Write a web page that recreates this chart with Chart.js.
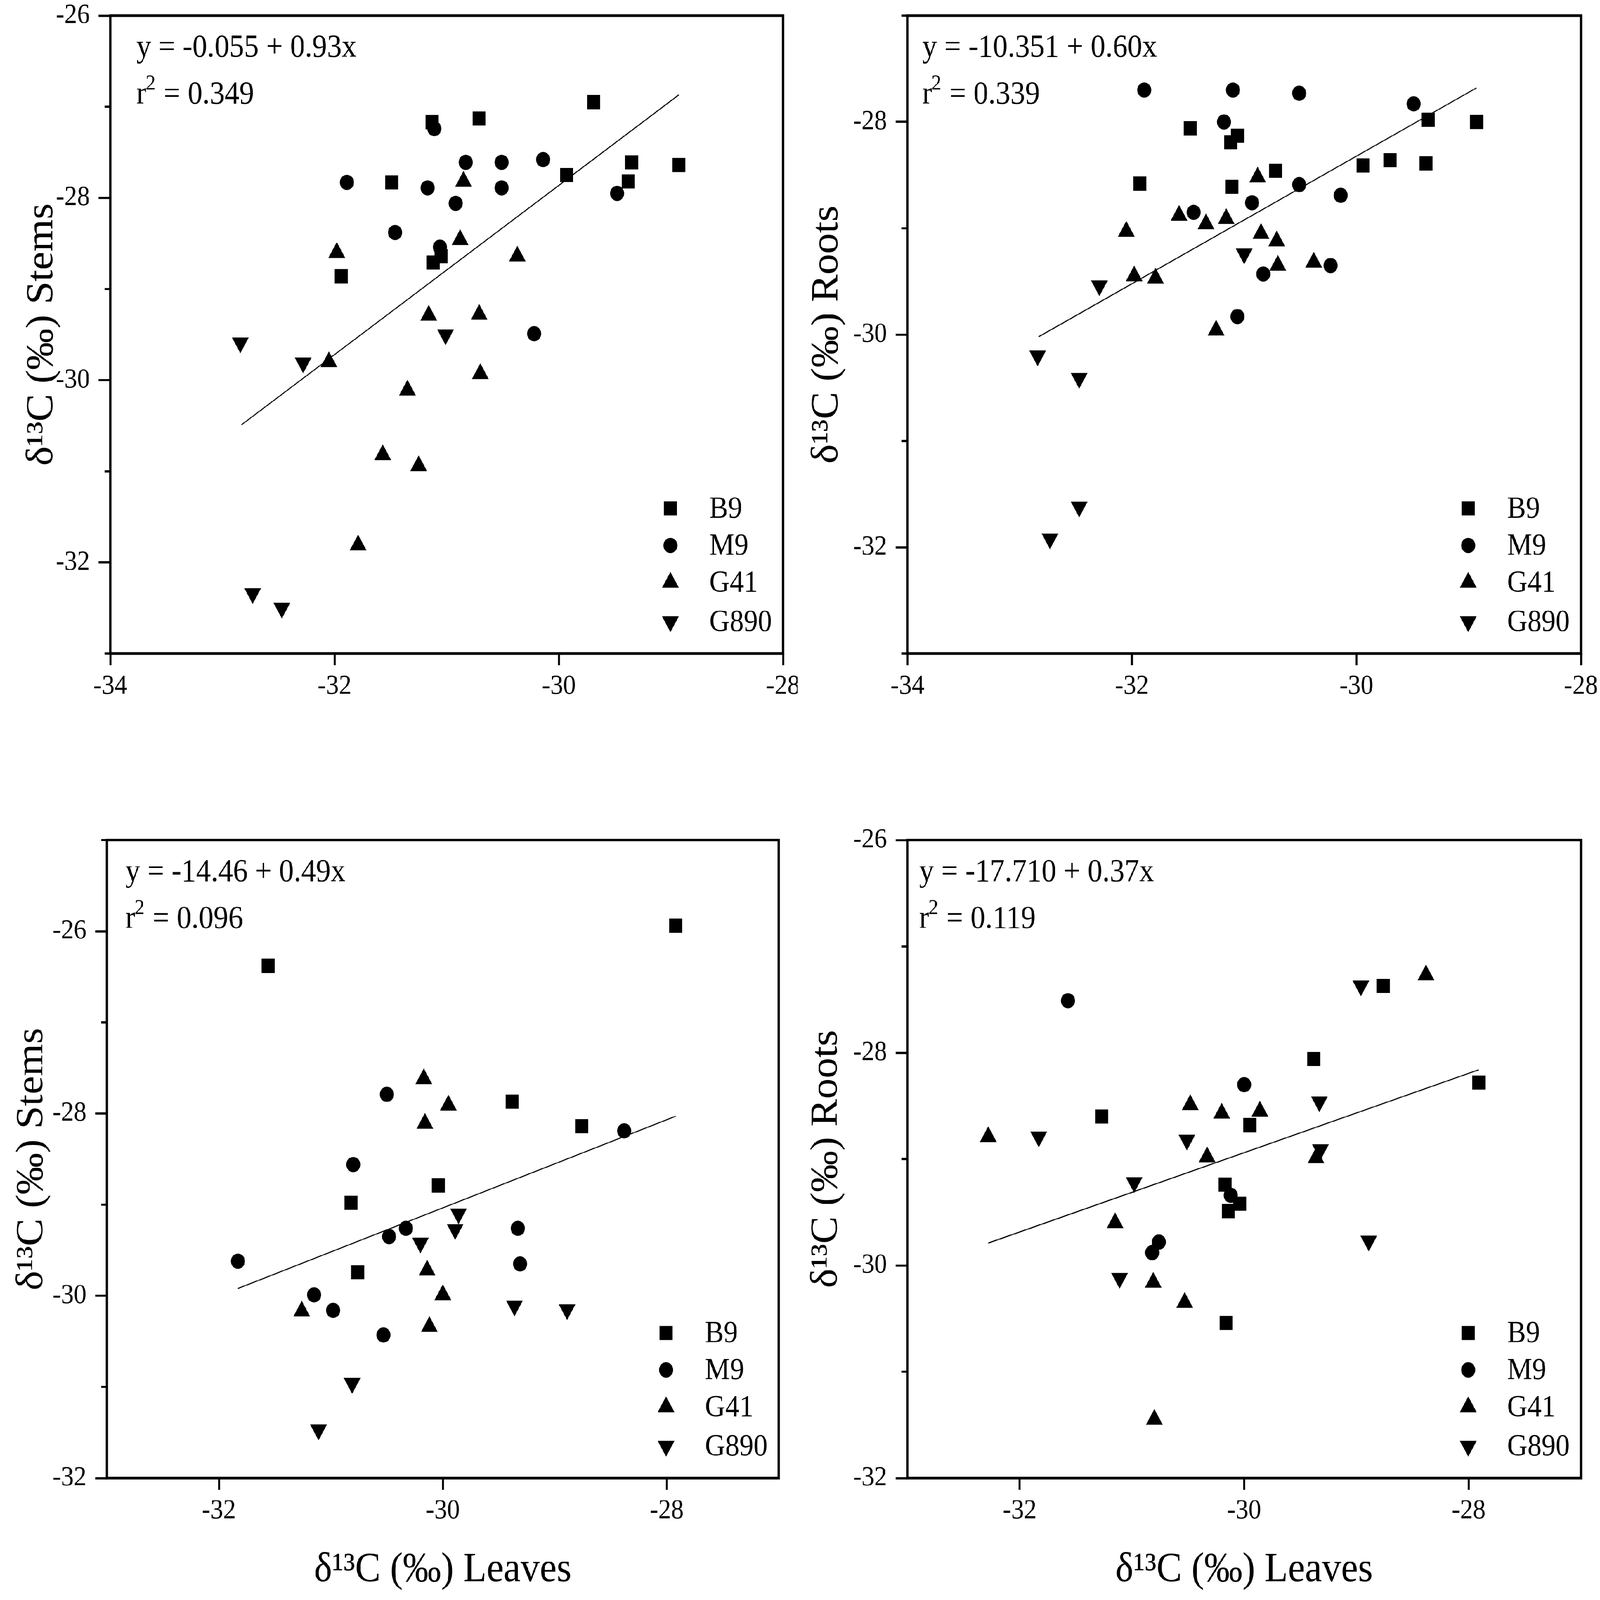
<!DOCTYPE html>
<html>
<head>
<meta charset="utf-8">
<title>δ13C scatter panels</title>
<script src="https://cdn.jsdelivr.net/npm/chart.js@4.4.1/dist/chart.umd.min.js"></script>
<style>
  html, body { margin: 0; padding: 0; background: #fff; overflow: hidden; }
  #page { width: 4773px; height: 4409px; position: absolute; left: 0; top: 0; transform-origin: 0 0; background: #fff; }
  .panel { position: absolute; }
</style>
</head>
<body>
<div id="page">
  <div class="panel" style="left:0px;top:0px;width:2380px;height:2000px"><canvas id="c1"></canvas></div>
  <div class="panel" style="left:2380px;top:0px;width:2393px;height:2000px"><canvas id="c2"></canvas></div>
  <div class="panel" style="left:0px;top:2100px;width:2380px;height:2309px"><canvas id="c3"></canvas></div>
  <div class="panel" style="left:2380px;top:2100px;width:2393px;height:2309px"><canvas id="c4"></canvas></div>
</div>
<script>
// ---- data: [leaves, tissue] in per mil ----
const seriesNames = ["B9", "M9", "G41", "G890"];

// top-left: stems
const topStemsB9 = [[-31.13,-27.17],[-30.71,-27.13],[-29.69,-26.95],[-31.49,-27.83],[-29.93,-27.75],[-29.35,-27.61],[-29.38,-27.82],[-28.93,-27.64],[-31.94,-28.86],[-31.12,-28.71],[-31.05,-28.64]];
const topStemsM9 = [[-31.11,-27.24],[-30.83,-27.61],[-30.51,-27.61],[-30.14,-27.58],[-31.89,-27.83],[-31.17,-27.89],[-30.51,-27.89],[-30.92,-28.06],[-31.46,-28.38],[-31.06,-28.54],[-29.48,-27.95],[-30.22,-29.49]];
const topStemsG41 = [[-30.85,-27.82],[-30.88,-28.46],[-31.98,-28.60],[-30.37,-28.64],[-31.16,-29.29],[-30.71,-29.28],[-32.05,-29.80],[-30.70,-29.93],[-31.35,-30.11],[-31.57,-30.82],[-31.25,-30.94],[-31.79,-31.81]];
const topStemsG890 = [[-32.84,-29.59],[-32.28,-29.81],[-31.01,-29.50],[-32.73,-32.34],[-32.47,-32.50]];
const topStemsFit = [[-32.83,-30.49],[-28.93,-26.87]];

// top-right: roots
const topRootsB9 = [[-31.48,-28.06],[-31.12,-28.19],[-31.06,-28.13],[-31.93,-28.58],[-31.11,-28.61],[-30.72,-28.46],[-29.94,-28.41],[-29.70,-28.36],[-29.38,-28.39],[-29.36,-27.98],[-28.93,-28.00]];
const topRootsM9 = [[-31.89,-27.70],[-31.10,-27.70],[-30.51,-27.73],[-29.49,-27.83],[-31.18,-28.00],[-30.51,-28.59],[-30.14,-28.69],[-30.93,-28.76],[-31.45,-28.85],[-30.23,-29.35],[-30.83,-29.43],[-31.06,-29.83]];
const topRootsG41 = [[-30.88,-28.52],[-31.58,-28.88],[-31.34,-28.96],[-31.16,-28.91],[-32.05,-29.03],[-30.85,-29.05],[-30.71,-29.12],[-31.98,-29.45],[-31.79,-29.47],[-30.70,-29.35],[-30.38,-29.32],[-31.25,-29.96]];
const topRootsG890 = [[-31.00,-29.24],[-32.29,-29.54],[-32.84,-30.20],[-32.47,-30.41],[-32.47,-31.62],[-32.73,-31.92]];
const topRootsFit = [[-32.83,-30.02],[-28.93,-27.68]];

// bottom-left: stems
const botStemsB9 = [[-31.56,-26.38],[-27.92,-25.94],[-29.38,-27.87],[-28.76,-28.14],[-30.04,-28.79],[-30.82,-28.98],[-30.76,-29.74]];
const botStemsM9 = [[-30.50,-27.79],[-30.80,-28.56],[-28.38,-28.19],[-30.33,-29.26],[-30.48,-29.35],[-29.33,-29.26],[-29.31,-29.65],[-31.83,-29.62],[-31.15,-29.99],[-30.98,-30.16],[-30.53,-30.43]];
const botStemsG41 = [[-30.17,-27.62],[-29.95,-27.91],[-30.16,-28.11],[-30.14,-29.72],[-30.00,-29.99],[-31.26,-30.17],[-30.12,-30.34]];
const botStemsG890 = [[-29.86,-29.10],[-29.89,-29.27],[-30.20,-29.42],[-29.36,-30.11],[-28.89,-30.15],[-30.81,-30.96],[-31.11,-31.47]];
const botStemsFit = [[-31.83,-29.92],[-27.92,-28.03]];

// bottom-right: roots
const botRootsB9 = [[-28.76,-27.37],[-29.38,-28.06],[-27.91,-28.28],[-31.27,-28.60],[-29.95,-28.68],[-30.17,-29.24],[-30.04,-29.42],[-30.14,-29.49],[-30.16,-30.54]];
const botRootsM9 = [[-31.57,-27.51],[-30.00,-28.30],[-30.12,-29.34],[-30.76,-29.78],[-30.82,-29.88]];
const botRootsG41 = [[-28.38,-27.27],[-30.48,-28.49],[-30.20,-28.57],[-29.86,-28.55],[-32.28,-28.79],[-30.33,-28.98],[-29.36,-28.99],[-31.15,-29.60],[-30.81,-30.16],[-30.53,-30.35],[-30.80,-31.45]];
const botRootsG890 = [[-28.96,-27.37],[-29.33,-28.46],[-31.83,-28.79],[-30.51,-28.82],[-29.32,-28.91],[-30.98,-29.22],[-28.89,-29.77],[-31.11,-30.12]];
const botRootsFit = [[-32.28,-29.79],[-27.91,-28.16]];

// axis ticks
const topXTicks = [-34, -32, -30, -28];
const botXTicks = [-32, -30, -28];
const topStemsYMajor = [-32, -30, -28, -26], topStemsYMinor = [-33, -31, -29, -27];
const topRootsYMajor = [-32, -30, -28],      topRootsYMinor = [-33, -31, -29, -27];
const botStemsYMajor = [-32, -30, -28, -26], botStemsYMinor = [-31, -29, -27, -25];
const botRootsYMajor = [-32, -30, -28, -26], botRootsYMinor = [-31, -29, -27];

// regression labels
const topStemsEq = ["y = -0.055 + 0.93x", "0.349"];
const topRootsEq = ["y = -10.351 + 0.60x", "0.339"];
const botStemsEq = ["y = -14.46 + 0.49x", "0.096"];
const botRootsEq = ["y = -17.710 + 0.37x", "0.119"];

const stemsTitle = "δ¹³C (‰) Stems";
const rootsTitle = "δ¹³C (‰) Roots";
const leavesTitle = "δ¹³C (‰) Leaves";

// fit the 4773x4409 page into whatever viewport we get
const page = document.getElementById("page");
page.style.transform = `scale(${window.innerWidth / 4773}, ${window.innerHeight / 4409})`;

// ---- drawing ----
const SERIF = "'Liberation Serif', 'Times New Roman', serif";
const markStyles = [
  { pointStyle: "rect", radius: 27.6, rotation: 0 },
  { pointStyle: "circle", radius: 21, rotation: 0 },
  { pointStyle: "triangle", radius: 29, rotation: 0 },
  { pointStyle: "triangle", radius: 29, rotation: 180 },
];

const toXY = arr => arr.map(p => ({ x: p[0], y: p[1] }));

const framePlugin = {
  id: "frame",
  afterDraw(chart, args, opts) {
    const { ctx, chartArea: ca, scales } = chart;
    ctx.save();
    ctx.strokeStyle = "#000";
    ctx.lineWidth = 7;
    ctx.strokeRect(ca.left, ca.top, ca.right - ca.left, ca.bottom - ca.top);
    // short minor ticks on the y axis
    ctx.lineWidth = 6;
    (opts.yMinor || []).forEach(v => {
      const y = scales.y.getPixelForValue(v);
      ctx.beginPath();
      ctx.moveTo(ca.left, y);
      ctx.lineTo(ca.left - 17, y);
      ctx.stroke();
    });
    ctx.restore();
  }
};

const eqPlugin = {
  id: "eqText",
  afterDraw(chart, args, opts) {
    if (!opts.lines) return;
    const { ctx, chartArea: ca } = chart;
    const x0 = ca.left + opts.dx;
    ctx.save();
    ctx.fillStyle = "#000";
    ctx.textBaseline = "alphabetic";
    ctx.textAlign = "left";
    ctx.font = `88px ${SERIF}`;
    ctx.fillText(opts.lines[0], x0, ca.top + 113);
    const y2 = ca.top + 242;
    ctx.fillText("r", x0, y2);
    let w = ctx.measureText("r").width;
    ctx.font = `60px ${SERIF}`;
    ctx.fillText("2", x0 + w - 2, y2 - 38);
    w += ctx.measureText("2").width;
    ctx.font = `88px ${SERIF}`;
    ctx.fillText(" = " + opts.lines[1], x0 + w, y2);
    ctx.restore();
  }
};

const legendPlugin = {
  id: "markLegend",
  afterDraw(chart) {
    const { ctx, chartArea: ca } = chart;
    const rows = [400, 298, 196, 88];
    ctx.save();
    ctx.fillStyle = "#000";
    ctx.font = `84px ${SERIF}`;
    ctx.textBaseline = "middle";
    ctx.textAlign = "left";
    seriesNames.forEach((name, i) => {
      const y = ca.bottom - rows[i];
      const mx = ca.right - 336;
      Chart.helpers.drawPoint(ctx, { ...markStyles[i], borderWidth: 0 }, mx, y);
      ctx.fillText(name, ca.right - 220, y + 4);
    });
    ctx.restore();
  }
};

function noEdgePadding(s) {
  s.paddingTop = 0; s.paddingBottom = 0; s.paddingLeft = 0; s.paddingRight = 0;
}

function makeChart(canvasId, p) {
  const datasets = p.series.map((s, i) => ({
    label: seriesNames[i],
    data: toXY(s),
    backgroundColor: "#000",
    borderWidth: 0,
    pointStyle: markStyles[i].pointStyle,
    pointRadius: markStyles[i].radius,
    pointRotation: markStyles[i].rotation,
    showLine: false,
  }));
  datasets.push({
    label: "fit",
    data: toXY(p.fit),
    showLine: true,
    borderColor: "#000",
    borderWidth: 3,
    pointRadius: 0,
    fill: false,
  });

  const tickFont = { family: SERIF, size: 76 };
  const titleFont = { family: SERIF, size: 114, lineHeight: 1.2 };

  new Chart(document.getElementById(canvasId), {
    type: "scatter",
    data: { datasets },
    plugins: [framePlugin, eqPlugin, legendPlugin],
    options: {
      responsive: true,
      maintainAspectRatio: false,
      devicePixelRatio: 1,
      animation: false,
      events: [],
      layout: { padding: { top: p.padTop, right: p.padRight, left: 0, bottom: 0 } },
      plugins: {
        legend: { display: false },
        tooltip: { enabled: false },
        frame: { yMinor: p.yMinor },
        eqText: { lines: p.eq, dx: p.eqDx },
      },
      scales: {
        x: {
          type: "linear",
          min: p.xMin, max: p.xMax,
          afterBuildTicks: s => { s.ticks = p.xTicks.map(v => ({ value: v })); },
          afterFit: s => { s.height = p.xH; noEdgePadding(s); },
          border: { display: false },
          grid: { drawOnChartArea: false, drawTicks: true, tickLength: 32, tickWidth: 6, tickColor: "#000" },
          ticks: { color: "#000", font: tickFont, padding: 13, maxRotation: 0, autoSkip: false, callback: v => String(v) },
          title: p.xTitle
            ? { display: true, text: p.xTitle, color: "#000", font: titleFont, padding: { top: 0, bottom: p.xTitlePad } }
            : { display: false },
        },
        y: {
          type: "linear",
          min: p.yMin, max: p.yMax,
          afterBuildTicks: s => { s.ticks = p.yMajor.map(v => ({ value: v })); },
          afterFit: s => { s.width = p.yW; noEdgePadding(s); },
          border: { display: false },
          grid: { drawOnChartArea: false, drawTicks: true, tickLength: 35, tickWidth: 6, tickColor: "#000" },
          ticks: { color: "#000", font: tickFont, padding: 26, autoSkip: false, callback: v => String(v) },
          title: { display: true, text: p.yTitle, color: "#000", font: titleFont, padding: { top: p.yTitlePad, bottom: 0 } },
        },
      },
    },
  });
}

makeChart("c1", {
  series: [topStemsB9, topStemsM9, topStemsG41, topStemsG890], fit: topStemsFit,
  xMin: -34, xMax: -28, xTicks: topXTicks, yMin: -33, yMax: -26, yMajor: topStemsYMajor, yMinor: topStemsYMinor,
  eq: topStemsEq, eqDx: 78, yTitle: stemsTitle, yTitlePad: 58,
  padTop: 43, padRight: 44, yW: 329, xH: 199,
});
makeChart("c2", {
  series: [topRootsB9, topRootsM9, topRootsG41, topRootsG890], fit: topRootsFit,
  xMin: -34, xMax: -28, xTicks: topXTicks, yMin: -33, yMax: -27, yMajor: topRootsYMajor, yMinor: topRootsYMinor,
  eq: topRootsEq, eqDx: 44, yTitle: rootsTitle, yTitlePad: 20,
  padTop: 43, padRight: 57, yW: 327, xH: 199,
});
makeChart("c3", {
  series: [botStemsB9, botStemsM9, botStemsG41, botStemsG890], fit: botStemsFit,
  xMin: -33, xMax: -27, xTicks: botXTicks, yMin: -32, yMax: -25, yMajor: botStemsYMajor, yMinor: botStemsYMinor,
  eq: botStemsEq, eqDx: 55, yTitle: stemsTitle, yTitlePad: 28, xTitle: leavesTitle, xTitlePad: 14,
  padTop: 215, padRight: 57, yW: 319, xH: 336,
});
makeChart("c4", {
  series: [botRootsB9, botRootsM9, botRootsG41, botRootsG890], fit: botRootsFit,
  xMin: -33, xMax: -27, xTicks: botXTicks, yMin: -32, yMax: -26, yMajor: botRootsYMajor, yMinor: botRootsYMinor,
  eq: botRootsEq, eqDx: 35, yTitle: rootsTitle, yTitlePad: 18, xTitle: leavesTitle, xTitlePad: 14,
  padTop: 215, padRight: 57, yW: 327, xH: 336,
});
</script>
</body>
</html>
